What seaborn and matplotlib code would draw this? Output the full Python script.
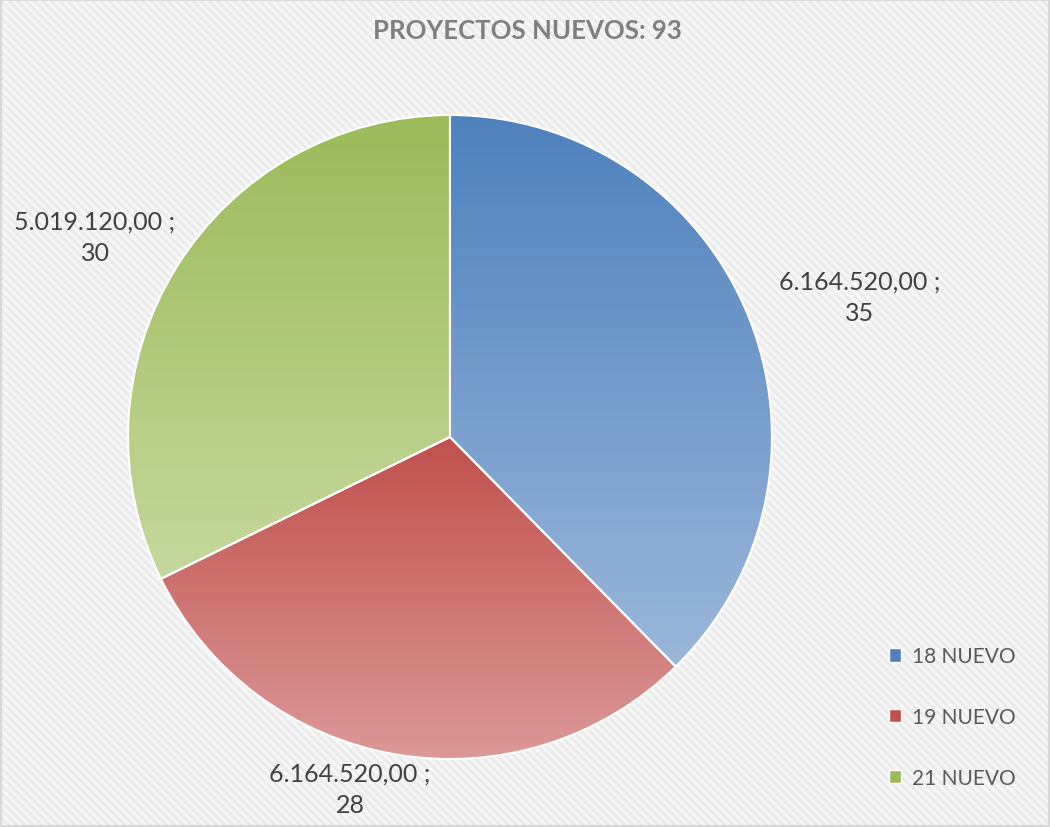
import numpy as np
import matplotlib
matplotlib.use("Agg")
import matplotlib.pyplot as plt
import seaborn as sns
from matplotlib.patches import Rectangle, Patch
from matplotlib.colors import LinearSegmentedColormap

# datos
categorias = ['18 NUEVO', '19 NUEVO', '21 NUEVO']
proyectos = [35, 28, 30]
montos = ['6.164.520,00', '6.164.520,00', '5.019.120,00']
titulo = 'PROYECTOS NUEVOS: 93'

# colores (arriba oscuro -> abajo claro)
color_arriba = ['#4F81BD', '#C0504D', '#9BBB59']
color_abajo = ['#9BB7DA', '#DC9A98', '#C5D89D']

sns.set_style('white')
plt.rcParams['font.family'] = ['Lato', 'DejaVu Sans']
plt.rcParams['hatch.linewidth'] = 2.0

fig = plt.figure(figsize=(10.5, 8.28), dpi=100)
fig.patch.set_facecolor('#f6f6f6')

# fondo con trama diagonal
fondo = Rectangle((0, 0), 1, 1, transform=fig.transFigure, facecolor='#f7f7f7',
                  edgecolor='#ebebeb', hatch='\\\\\\\\', linewidth=0, zorder=-10)
fig.patches.append(fondo)
borde = Rectangle((0.001, 0.001), 0.998, 0.998, transform=fig.transFigure, facecolor='none',
                  edgecolor='#d9d9d9', linewidth=1.5, zorder=-5)
fig.patches.append(borde)

ax = fig.add_axes([0.1219, 0.0821, 0.6133, 0.7778])
ax.set_xlim(-1, 1)
ax.set_ylim(-1, 1)
ax.axis('off')

wedges, _ = ax.pie(proyectos, startangle=90, counterclock=False, radius=1,
                   colors=color_arriba,
                   wedgeprops=dict(edgecolor='white', linewidth=1.5))

# degradado vertical en cada sector (segun su propia altura)
grad = np.linspace(0, 1, 256).reshape(-1, 1)
for w, c1, c2 in zip(wedges, color_arriba, color_abajo):
    verts = w.get_path().vertices
    y0, y1 = verts[:, 1].min(), verts[:, 1].max()
    cmap = LinearSegmentedColormap.from_list('g', [c1, c2])
    im = ax.imshow(grad, cmap=cmap, extent=[-1, 1, y0, y1], aspect='auto',
                   origin='upper', zorder=1)
    im.set_clip_path(w)
    w.set_facecolor('none')
    w.set_zorder(2)
ax.set_xlim(-1, 1)
ax.set_ylim(-1, 1)

# etiquetas de datos
pos_etiquetas = [(860, 298), (350, 790), (95, 238)]
for (px, py), m, n in zip(pos_etiquetas, montos, proyectos):
    fig.text(px / 1050, 1 - py / 828, f'{m} ;\n{n}', ha='center', va='center',
             fontsize=18, color='#404040', linespacing=1.45)

fig.text(527 / 1050, 1 - 31 / 828, titulo, ha='center', va='center',
         fontsize=18.5, fontweight='bold', color='#7f7f7f')

handles = [Patch(facecolor=c, edgecolor='white') for c in color_arriba]
leg = fig.legend(handles, categorias, loc='center', bbox_to_anchor=(952 / 1050, 1 - 718 / 828),
                 frameon=False, fontsize=15, labelspacing=1.95, handlelength=0.6,
                 handleheight=0.6, handletextpad=0.5)
for t in leg.get_texts():
    t.set_color('#595959')

fig.savefig('out.png', dpi=100, facecolor=fig.get_facecolor())
